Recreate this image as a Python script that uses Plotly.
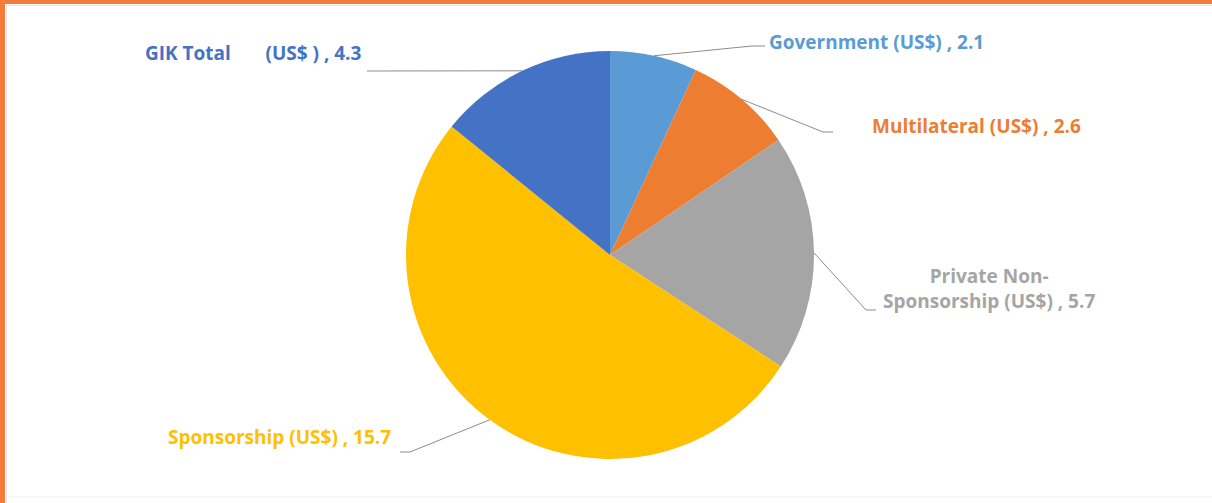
import math
import plotly.graph_objects as go

# ---- data ----
categories = ["Government (US$)", "Multilateral (US$)", "Private Non-Sponsorship (US$)",
              "Sponsorship (US$)", "GIK Total (US$)"]
values = [2.1, 2.6, 5.7, 15.7, 4.3]
label_texts = ["Government (US$) , 2.1", "Multilateral (US$) , 2.6",
               "Private Non-<br>Sponsorship (US$) , 5.7", "Sponsorship (US$) , 15.7",
               "GIK Total\u00a0\u00a0\u00a0\u00a0\u00a0\u00a0 (US$ ) , 4.3"]
colors = ["#5B9BD5", "#ED7D31", "#A5A5A5", "#FFC000", "#4472C4"]

W, H = 1212, 503
CX, CY, R = 610, 255, 204  # pie center / radius in px


def px(x, y):
    return x / W, 1 - y / H


fig = go.Figure()
fig.add_trace(go.Pie(
    labels=categories, values=values, sort=False, direction="clockwise", rotation=0,
    marker=dict(colors=colors, line=dict(width=0)),
    textinfo="none", hoverinfo="label+value", showlegend=False,
    domain=dict(x=[(CX - R) / W, (CX + R) / W], y=[1 - (CY + R) / H, 1 - (CY - R) / H]),
))

# label anchor (px) and elbow points for the leader lines
label_pos = [(767, 42, "left"), (870, 126, "left"), (989, 288, "center"),
             (393, 437, "right"), (143, 53, "left")]
elbows = [[(765, 46), (752, 46)], [(833, 132), (823, 132)], [(876, 310), (866, 310)],
          [(400, 452), (410, 452)], [(367, 71), (372, 71)]]

total = sum(values)
cum = 0
shapes = []
for i, v in enumerate(values):
    mid = (cum + v / 2) / total * 2 * math.pi
    cum += v
    ex = CX + R * math.sin(mid)
    ey = CY - R * math.cos(mid)
    pts = elbows[i] + [(ex, ey)]
    path = ""
    for j, (x, y) in enumerate(pts):
        a, b = px(x, y)
        path += ("M" if j == 0 else " L") + f"{a:.5f},{b:.5f}"
    shapes.append(dict(type="path", xref="paper", yref="paper", path=path,
                       line=dict(color="#8C8C8C", width=1)))
    lx, ly, anc = label_pos[i]
    ax, ay = px(lx, ly)
    fig.add_annotation(x=ax, y=ay, xref="paper", yref="paper", xanchor=anc,
                       yanchor="middle", showarrow=False, align="center",
                       text=f"<b>{label_texts[i]}</b>",
                       font=dict(family="Open Sans", size=19, color=colors[i]))

# orange frame + faint inner lines
shapes += [
    dict(type="rect", xref="paper", yref="paper", x0=0, x1=1, y0=1 - 4 / H, y1=1,
         fillcolor="#F47B3A", line=dict(width=0)),
    dict(type="rect", xref="paper", yref="paper", x0=0, x1=5 / W, y0=0, y1=1,
         fillcolor="#F47B3A", line=dict(width=0)),
    dict(type="line", xref="paper", yref="paper", x0=6 / W, x1=1, y0=1 - 5.5 / H, y1=1 - 5.5 / H,
         line=dict(color="#E4E4E4", width=1)),
    dict(type="line", xref="paper", yref="paper", x0=6.5 / W, x1=6.5 / W, y0=0, y1=1 - 5 / H,
         line=dict(color="#E4E4E4", width=1)),
    dict(type="line", xref="paper", yref="paper", x0=6 / W, x1=1, y0=1 - 497 / H, y1=1 - 497 / H,
         line=dict(color="#F0F0F0", width=1)),
]

fig.update_layout(width=W, height=H, margin=dict(l=0, r=0, t=0, b=0),
                  paper_bgcolor="white", plot_bgcolor="white", shapes=shapes)
fig.write_html("out.html", config={"displayModeBar": False},
               post_script="document.body.style.margin='0';document.body.style.overflow='hidden';")
